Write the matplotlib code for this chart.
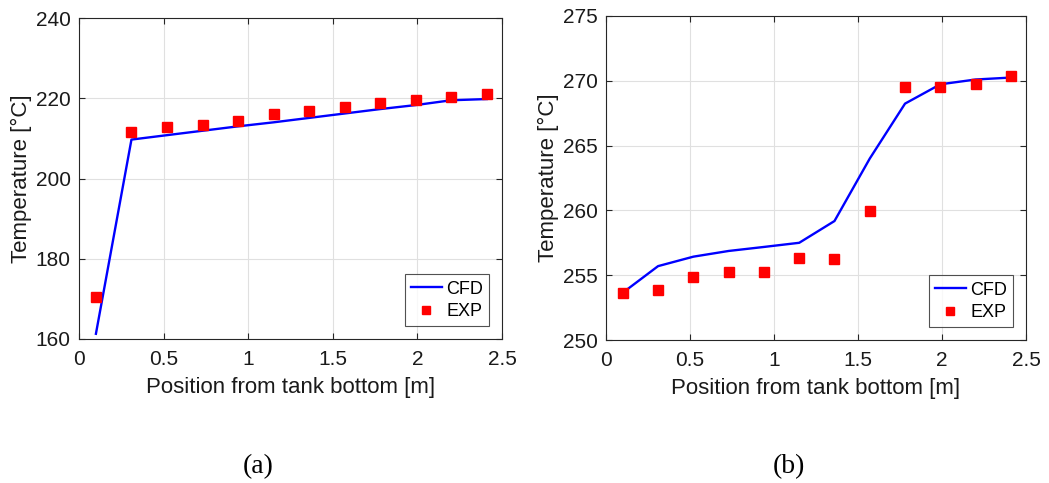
import matplotlib
matplotlib.use("Agg")
import matplotlib.pyplot as plt

plt.rcParams['font.family'] = ['Liberation Sans', 'DejaVu Sans']

# Sensor positions along the tank height [m]
positions = [0.10, 0.31, 0.52, 0.73, 0.94, 1.15, 1.36, 1.57, 1.78, 1.99, 2.20, 2.41]

# Case (a)
cfd_a = [161.3, 209.7, 210.8, 211.9, 213.0, 214.0, 215.1, 216.2, 217.3, 218.3, 219.5, 219.8]
exp_a = [170.4, 211.7, 212.8, 213.4, 214.4, 216.1, 216.8, 217.8, 218.7, 219.5, 220.2, 221.1]

# Case (b)
cfd_b = [253.65, 255.7, 256.43, 256.87, 257.18, 257.5, 259.18, 264.0, 268.24, 269.73, 270.1, 270.25]
exp_b = [253.6, 253.83, 254.84, 255.25, 255.25, 256.33, 256.25, 259.95, 269.5, 269.5, 269.73, 270.4]

xticks = [0, 0.5, 1, 1.5, 2, 2.5]
xtick_labels = ['0', '0.5', '1', '1.5', '2', '2.5']
yticks_a = [160, 180, 200, 220, 240]
yticks_b = [250, 255, 260, 265, 270, 275]

W, H = 1049, 483
fig = plt.figure(figsize=(W / 100, H / 100), dpi=100)

def panel(rect, cfd, exp, yticks, tag, tag_x):
    l, t, r, b = rect
    ax = fig.add_axes([l / W, 1 - b / H, (r - l) / W, (b - t) / H])
    ax.plot(positions, cfd, color='#0000ff', lw=1.7, label='CFD', zorder=3)
    ax.plot(positions, exp, ls='none', marker='s', ms=7, color='#ff0000',
            label='EXP', zorder=4)
    ax.set_xlim(0, 2.5)
    ax.set_ylim(yticks[0], yticks[-1])
    ax.set_xticks(xticks)
    ax.set_xticklabels(xtick_labels)
    ax.set_yticks(yticks)
    ax.grid(True, color='#e0e0e0', lw=0.8)
    ax.set_axisbelow(True)
    for s in ax.spines.values():
        s.set_color('#262626')
        s.set_linewidth(0.8)
    ax.tick_params(direction='in', length=4, width=0.8, colors='#262626',
                   labelcolor='#1a1a1a', labelsize=15, top=True, right=True)
    ax.tick_params(axis='x', pad=8)
    ax.tick_params(axis='y', pad=6)
    ax.set_xlabel('Position from tank bottom [m]', fontsize=16, color='#1a1a1a', labelpad=6)
    ax.set_ylabel('Temperature [°C]', fontsize=16, color='#1a1a1a', labelpad=3)
    leg = ax.legend(loc='lower right', fontsize=13, frameon=True, fancybox=False,
                    edgecolor='#262626', borderpad=0.35, handlelength=1.7,
                    handletextpad=0.25, labelspacing=0.3, borderaxespad=0.7,
                    markerscale=0.8)
    leg.get_frame().set_linewidth(0.8)
    fig.text(tag_x / W, 1 - 467 / H, tag, ha='center', va='center',
             fontsize=20, family=['Liberation Serif', 'DejaVu Serif'])
    return ax

panel((79, 18, 502, 339), cfd_a, exp_a, yticks_a, '(a)', 258.5)
panel((606, 16, 1026, 340), cfd_b, exp_b, yticks_b, '(b)', 788.5)

fig.savefig('out.png', dpi=100)
